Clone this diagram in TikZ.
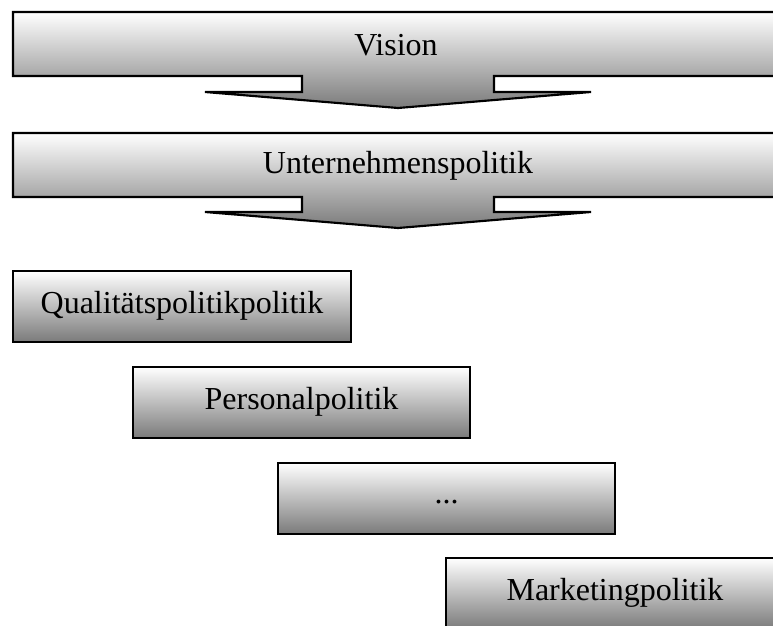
\documentclass[tikz,border=0pt]{standalone}
\usepackage{fontspec}
\setmainfont{Liberation Serif}
\begin{document}
\begin{tikzpicture}[x=0.75pt,y=-0.75pt,
  callout/.style={draw=black,line width=1.6pt,line join=miter,
    top color=white,middle color=black!24,bottom color=black!52},
  policybox/.style={draw=black,line width=1.7pt,
    top color=white,middle color=black!14,bottom color=black!52},
  label/.style={font=\fontsize{24}{28}\selectfont,inner sep=0pt,anchor=center}]
\useasboundingbox (0,0) rectangle (773,625);
\begin{scope}
\clip (0,0) rectangle (773,625);
% Vision: banner with a downward arrow
\path[callout] (13,12) -- (785,12) -- (785,76) -- (494,76) -- (494,92) -- (591,92)
  -- (398,108) -- (205,92) -- (302,92) -- (302,76) -- (13,76) -- cycle;
\node[label] (vision) at (396,45) {Vision};
% Unternehmenspolitik: banner with a downward arrow
\path[callout] (13,133) -- (785,133) -- (785,197) -- (494,197) -- (494,212) -- (591,212)
  -- (398,228) -- (205,212) -- (302,212) -- (302,197) -- (13,197) -- cycle;
\node[label] (up) at (398,166) {Unternehmenspolitik};
% staircase of policy boxes
\path[policybox] (13,271) rectangle (351,342);
\node[label] (qp) at (182,306) {Qualitätspolitikpolitik};
\path[policybox] (133,367) rectangle (470,438);
\node[label] (pp) at (301.5,402) {Personalpolitik};
\path[policybox] (278,463) rectangle (615,534);
\node[label] (dots) at (446.5,502) {...};
\path[policybox] (446,558) rectangle (784,629);
\node[label] (mp) at (615,593) {Marketingpolitik};
\end{scope}
\end{tikzpicture}
\end{document}
